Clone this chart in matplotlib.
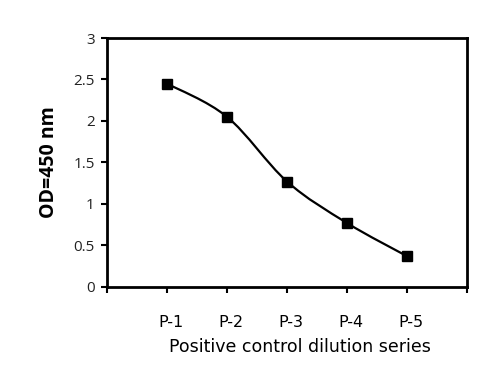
import matplotlib
matplotlib.use("Agg")
import matplotlib.pyplot as plt
import matplotlib.transforms as mtransforms
from matplotlib.path import Path
from matplotlib.patches import PathPatch

samples = ["P-1", "P-2", "P-3", "P-4", "P-5"]
od450 = [2.45, 2.05, 1.27, 0.77, 0.37]
y_ticks = [0, 0.5, 1, 1.5, 2, 2.5, 3]
y_tick_labels = ["0", "0.5", "1", "1.5", "2", "2.5", "3"]

xs = list(range(1, len(samples) + 1))

fig = plt.figure(figsize=(4.91, 3.84), dpi=100)
ax = fig.add_axes([0.218, 0.253, 0.733, 0.648])

# smoothed line like the spreadsheet one: cubic bezier segments through the points
pts = list(zip(xs, od450))
verts = [pts[0]]
codes = [Path.MOVETO]
for i in range(len(pts) - 1):
    p0 = pts[i - 1] if i > 0 else pts[i]
    p1 = pts[i]
    p2 = pts[i + 1]
    p3 = pts[i + 2] if i + 2 < len(pts) else pts[i + 1]
    c1 = (p1[0] + (p2[0] - p0[0]) / 6, p1[1] + (p2[1] - p0[1]) / 6)
    c2 = (p2[0] - (p3[0] - p1[0]) / 6, p2[1] - (p3[1] - p1[1]) / 6)
    verts += [c1, c2, p2]
    codes += [Path.CURVE4] * 3
ax.add_patch(PathPatch(Path(verts, codes), facecolor="none", edgecolor="black", lw=1.6))
ax.plot(xs, od450, ls="none", marker="s", ms=7.5, color="black")

ax.set_xlim(0, 6)
ax.set_ylim(0, 3)
ax.set_xticks(range(0, 7))
ax.set_xticklabels([""] + samples + [""], fontfamily="DejaVu Sans", fontsize=11.5)
ax.set_yticks(y_ticks)
ax.set_yticklabels(y_tick_labels, fontfamily="Open Sans", fontsize=11, color="#222222")
ax.tick_params(axis="x", length=4, width=1.5, pad=16)
ax.tick_params(axis="y", length=4, width=1.5, pad=5)
shift = mtransforms.ScaledTranslation(4 / 100, 0, fig.dpi_scale_trans)
for lab in ax.get_xticklabels():
    lab.set_transform(lab.get_transform() + shift)
for s in ax.spines.values():
    s.set_linewidth(2)

ax.set_xlabel("Positive control dilution series", fontfamily="DejaVu Sans",
              fontsize=12.5)
ax.xaxis.set_label_coords(0.535, -0.205)
ax.set_ylabel("OD=450 nm", fontfamily="Open Sans", fontweight="bold",
              fontsize=14, labelpad=10)

fig.savefig("out.png", dpi=100)
